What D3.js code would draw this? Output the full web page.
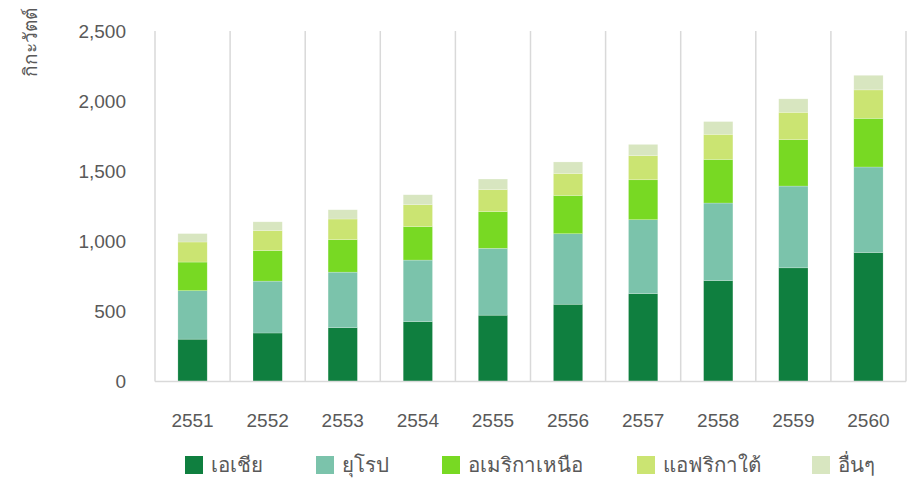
<!DOCTYPE html>
<html>
<head>
<meta charset="utf-8">
<script src="https://cdn.jsdelivr.net/npm/d3@7"></script>
<style>
  body { margin: 0; background: #fff; }
  text { font-family: "Liberation Sans", Arial, sans-serif; fill: #595959; }
</style>
</head>
<body>
<div id="chart"></div>
<script>
// years (Thai Buddhist calendar)
const years = ["2551", "2552", "2553", "2554", "2555", "2556", "2557", "2558", "2559", "2560"];
const seriesNames = ["เอเชีย", "ยุโรป", "อเมริกาเหนือ", "แอฟริกาใต้", "อื่นๆ"];
const seriesColors = ["#0f7f3f", "#7bc3ab", "#78d923", "#cbe472", "#d8e6c0"];

// values in GW
const asia      = [302, 346, 384, 427, 473, 551, 627, 720, 811, 920];
const europe    = [346, 370, 396, 439, 477, 503, 527, 553, 583, 610];
const nAmerica  = [204, 218, 232, 239, 262, 273, 285, 311, 331, 347];
const sAfrica   = [143, 143, 147, 156, 157, 157, 172, 179, 195, 203];
const others    = [ 60,  62,  66,  71,  75,  82,  80,  91,  96, 104];
const yTicks = [0, 500, 1000, 1500, 2000, 2500];

const W = 913, H = 479;
const margin = {top: 31, right: 7, bottom: 97.5, left: 155};
const width = W - margin.left - margin.right;
const height = H - margin.top - margin.bottom;

const svg = d3.select("#chart").append("svg")
    .attr("width", W)
    .attr("height", H);

const g = svg.append("g")
    .attr("transform", "translate(" + margin.left + "," + margin.top + ")");

const x = d3.scaleBand().domain(years).range([0, width]).padding(0);
const y = d3.scaleLinear().domain([0, 2500]).range([height, 0]);

// vertical gridlines between categories
const edges = years.map(d => x(d)).concat([width]);
g.selectAll("line.grid")
    .data(edges)
    .enter().append("line")
    .attr("class", "grid")
    .attr("x1", d => d).attr("x2", d => d)
    .attr("y1", 0).attr("y2", height)
    .attr("stroke", "#d9d9d9")
    .attr("stroke-width", 1.5);

// stack it
const table = years.map((yr, i) => ({
    year: yr, s0: asia[i], s1: europe[i], s2: nAmerica[i], s3: sAfrica[i], s4: others[i]
}));
const stack = d3.stack().keys(["s0", "s1", "s2", "s3", "s4"]);
const layers = stack(table);

const barW = x.bandwidth() * 0.39;

g.selectAll("g.layer")
    .data(layers)
    .enter().append("g")
    .attr("class", "layer")
    .attr("fill", (d, i) => seriesColors[i])
    .selectAll("rect")
    .data(d => d)
    .enter().append("rect")
    .attr("x", d => x(d.data.year) + (x.bandwidth() - barW) / 2)
    .attr("width", barW)
    .attr("y", d => y(d[1]))
    .attr("height", d => y(d[0]) - y(d[1]))
    .attr("stroke", "#ffffff")
    .attr("stroke-opacity", 0.35)
    .attr("stroke-width", 0.6);

// x axis line
g.append("line")
    .attr("x1", 0).attr("x2", width)
    .attr("y1", height).attr("y2", height)
    .attr("stroke", "#d9d9d9")
    .attr("stroke-width", 1.5);

// y axis labels
const fmt = d3.format(",");
g.selectAll("text.ytick")
    .data(yTicks)
    .enter().append("text")
    .attr("class", "ytick")
    .attr("x", -29)
    .attr("y", d => y(d))
    .attr("dy", "0.35em")
    .attr("text-anchor", "end")
    .style("font-size", "19px")
    .text(d => fmt(d));

// x axis labels
g.selectAll("text.xtick")
    .data(years)
    .enter().append("text")
    .attr("class", "xtick")
    .attr("x", d => x(d) + x.bandwidth() / 2)
    .attr("y", height + 39)
    .attr("dy", "0.35em")
    .attr("text-anchor", "middle")
    .style("font-size", "19px")
    .text(d => d);

// y title
svg.append("text")
    .attr("transform", "translate(37,42) rotate(-90)")
    .attr("text-anchor", "middle")
    .style("font-size", "19px")
    .text("กิกะวัตต์");

// legend
const legendX = [185, 316, 442, 637, 812];
const legend = svg.selectAll("g.legend")
    .data(seriesNames)
    .enter().append("g")
    .attr("class", "legend")
    .attr("transform", (d, i) => "translate(" + legendX[i] + ",456)");
legend.append("rect")
    .attr("width", 18).attr("height", 18)
    .attr("fill", (d, i) => seriesColors[i]);
legend.append("text")
    .attr("x", 26)
    .attr("y", 9)
    .attr("dy", "0.35em")
    .style("font-size", "20.5px")
    .text(d => d);
</script>
</body>
</html>
